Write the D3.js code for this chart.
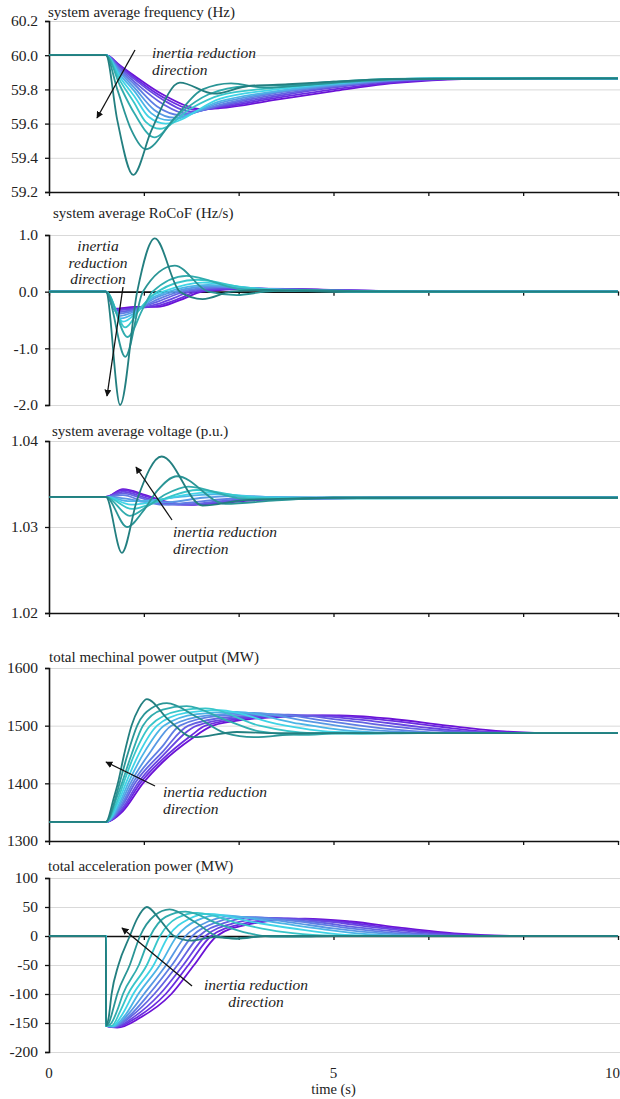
<!DOCTYPE html>
<html>
<head>
<meta charset="utf-8">
<script src="https://cdn.jsdelivr.net/npm/d3@7"></script>
<style>
  body { margin: 0; background: #fff; }
  svg text { font-family: "Liberation Serif", "DejaVu Serif", "Times New Roman", serif; }
</style>
</head>
<body>
<div id="chart"></div>
<script>
// ---- data ----
var timeTicks = [0, 1.667, 3.333, 5, 6.667, 8.333, 10];
var timeLabels = [0, 5, 10];

var freqTicks = [59.2, 59.4, 59.6, 59.8, 60.0, 60.2];
var rocofTicks = [-2, -1, 0, 1];
var voltTicks = [1.02, 1.03, 1.04];
var mechTicks = [1300, 1400, 1500, 1600];
var accTicks = [-200, -150, -100, -50, 0, 50, 100];

// one series per inertia case, highest inertia first
var freqSeries = [
  [[0,60],[1,60],[1.25,59.94],[1.5,59.88],[2.0,59.77],[2.7,59.685],[3.0,59.69],[4.0,59.74],[5.0,59.79],[6.0,59.835],[7.0,59.858],[8,59.865],[10,59.865]],
  [[0,60],[1,60],[1.25,59.935],[1.5,59.87],[2.0,59.755],[2.6,59.68],[3.0,59.695],[4.0,59.75],[5.0,59.80],[6.0,59.84],[7.0,59.86],[8,59.865],[10,59.865]],
  [[0,60],[1,60],[1.25,59.93],[1.5,59.86],[2.0,59.74],[2.5,59.67],[3.0,59.70],[4.0,59.76],[5.0,59.81],[6.0,59.845],[7,59.861],[8,59.865],[10,59.865]],
  [[0,60],[1,60],[1.25,59.92],[1.5,59.845],[2.0,59.715],[2.4,59.66],[3.0,59.705],[4.0,59.77],[5.0,59.815],[6.0,59.85],[7,59.862],[8,59.865],[10,59.865]],
  [[0,60],[1,60],[1.25,59.91],[1.5,59.83],[1.9,59.70],[2.3,59.65],[3.0,59.71],[4.0,59.78],[5.0,59.82],[6.0,59.852],[7,59.863],[8,59.865],[10,59.865]],
  [[0,60],[1,60],[1.25,59.90],[1.5,59.81],[1.85,59.68],[2.2,59.635],[3.0,59.72],[4,59.785],[5,59.825],[6,59.855],[7,59.864],[8,59.865],[10,59.865]],
  [[0,60],[1,60],[1.25,59.885],[1.5,59.79],[1.8,59.66],[2.1,59.62],[3.0,59.73],[4,59.79],[5,59.83],[6,59.858],[7,59.864],[10,59.865]],
  [[0,60],[1,60],[1.25,59.87],[1.5,59.76],[1.75,59.64],[2.05,59.60],[3,59.745],[4,59.80],[5,59.835],[6,59.86],[7,59.865],[10,59.865]],
  [[0,60],[1,60],[1.25,59.85],[1.5,59.72],[1.7,59.61],[1.95,59.57],[2.5,59.69],[3,59.765],[4,59.81],[5,59.84],[6,59.86],[7,59.865],[10,59.865]],
  [[0,60],[1,60],[1.25,59.82],[1.5,59.66],[1.85,59.52],[2.3,59.66],[2.8,59.77],[3.5,59.82],[4.2,59.825],[5,59.845],[6,59.862],[7,59.865],[10,59.865]],
  [[0,60],[1,60],[1.2,59.80],[1.45,59.56],[1.7,59.45],[2.2,59.63],[2.7,59.80],[3.2,59.835],[3.8,59.81],[4.5,59.825],[5.5,59.85],[6.5,59.862],[10,59.865]],
  [[0,60],[1,60],[1.2,59.62],[1.48,59.30],[1.8,59.56],[2.3,59.84],[2.9,59.775],[3.5,59.82],[4.2,59.83],[5,59.845],[6,59.86],[10,59.865]]
];

var rocofSeries = [
  [[0,0],[1,0],[1.15,-0.30],[1.5,-0.27],[1.9,-0.27],[2.3,-0.15],[2.7,0],[3.5,0.05],[4.2,0.05],[5,0.03],[6,0.01],[7,0],[10,0]],
  [[0,0],[1,0],[1.15,-0.31],[1.5,-0.29],[1.9,-0.25],[2.3,-0.12],[2.6,0],[3.4,0.055],[4.2,0.048],[5,0.028],[6,0.01],[7,0],[10,0]],
  [[0,0],[1,0],[1.17,-0.33],[1.5,-0.30],[1.9,-0.22],[2.2,-0.11],[2.5,0],[3.3,0.06],[4.1,0.045],[5,0.025],[6,0.008],[7,0],[10,0]],
  [[0,0],[1,0],[1.19,-0.36],[1.5,-0.31],[1.9,-0.18],[2.4,0],[3.1,0.07],[4,0.045],[5,0.022],[6,0.006],[7,0],[10,0]],
  [[0,0],[1,0],[1.21,-0.39],[1.5,-0.33],[1.9,-0.14],[2.3,0],[3.0,0.08],[3.9,0.045],[5,0.02],[6,0.005],[7,0],[10,0]],
  [[0,0],[1,0],[1.23,-0.43],[1.5,-0.35],[1.85,-0.12],[2.2,0],[2.9,0.10],[3.8,0.05],[5,0.018],[6,0.004],[7,0],[10,0]],
  [[0,0],[1,0],[1.26,-0.47],[1.5,-0.38],[1.8,-0.12],[2.1,0],[2.8,0.12],[3.7,0.055],[4.6,0.02],[6,0.003],[7,0],[10,0]],
  [[0,0],[1,0],[1.3,-0.53],[1.55,-0.36],[1.8,-0.08],[2.0,0],[2.7,0.16],[3.6,0.06],[4.5,0.02],[6,0],[10,0]],
  [[0,0],[1,0],[1.34,-0.63],[1.6,-0.3],[1.9,0],[2.6,0.21],[3.5,0.06],[4.5,0.015],[6,0],[10,0]],
  [[0,0],[1,0],[1.38,-0.80],[1.65,-0.3],[1.82,0],[2.42,0.28],[3.4,0.04],[4.2,0.02],[5.5,0],[10,0]],
  [[0,0],[1,0],[1.34,-1.15],[1.65,0],[2.21,0.46],[2.8,0],[3.3,-0.06],[3.8,0],[4.5,0.03],[5.5,0.01],[7,0],[10,0]],
  [[0,0],[1,0],[1.25,-2.0],[1.55,0],[1.86,0.94],[2.3,0],[2.7,-0.13],[3.2,0],[3.8,0.03],[4.6,0.01],[6,0],[10,0]]
];

var voltSeries = [
  [[0,1.0335],[1,1.0335],[1.3,1.0344],[1.7,1.0337],[2.1,1.0329],[2.5,1.0326],[3.0,1.0328],[3.6,1.0331],[4.5,1.0333],[6,1.0334],[10,1.0334]],
  [[0,1.0335],[1,1.0335],[1.3,1.0343],[1.7,1.0336],[2.1,1.0328],[2.5,1.0326],[3.0,1.0329],[3.6,1.0332],[4.5,1.0333],[6,1.0334],[10,1.0334]],
  [[0,1.0335],[1,1.0335],[1.3,1.0341],[1.7,1.0334],[2.1,1.0327],[2.45,1.0326],[3.0,1.0329],[3.6,1.0332],[4.5,1.0333],[6,1.0334],[10,1.0334]],
  [[0,1.0335],[1,1.0335],[1.3,1.0339],[1.7,1.0332],[2.1,1.0326],[2.4,1.0326],[3.0,1.0330],[3.6,1.0333],[5,1.0334],[10,1.0334]],
  [[0,1.0335],[1,1.0335],[1.3,1.0337],[1.65,1.0330],[2.0,1.0326],[2.4,1.0328],[3,1.0332],[3.6,1.0334],[10,1.0334]],
  [[0,1.0335],[1,1.0335],[1.35,1.0333],[1.7,1.0329],[2.1,1.0329],[2.7,1.0334],[3.2,1.0336],[4,1.0335],[5,1.0334],[10,1.0334]],
  [[0,1.0335],[1,1.0335],[1.42,1.0330],[1.8,1.0331],[2.3,1.0335],[2.9,1.0338],[3.8,1.0335],[5,1.0334],[10,1.0334]],
  [[0,1.0335],[1,1.0335],[1.44,1.0326],[1.8,1.0329],[2.2,1.0335],[2.75,1.0340],[3.8,1.0334],[10,1.0334]],
  [[0,1.0335],[1,1.0335],[1.46,1.0321],[1.8,1.0327],[2.15,1.0336],[2.6,1.0343],[3.6,1.0334],[4.5,1.0333],[10,1.0334]],
  [[0,1.0335],[1,1.0335],[1.42,1.0313],[1.75,1.0325],[2.05,1.0338],[2.45,1.0347],[3.4,1.0333],[4.0,1.0332],[5,1.0334],[10,1.0334]],
  [[0,1.0335],[1,1.0335],[1.37,1.0300],[1.65,1.0318],[1.9,1.0342],[2.25,1.0359],[3.1,1.0327],[4,1.0331],[5,1.0334],[10,1.0334]],
  [[0,1.0335],[1,1.0335],[1.28,1.0270],[1.55,1.0332],[1.98,1.0382],[2.7,1.0325],[3.4,1.0331],[4.2,1.0333],[5,1.0334],[10,1.0334]]
];

var mechSeries = [
  [[0,1333],[1,1333],[1.3,1352],[1.65,1400],[2.0,1437],[2.5,1477],[2.88,1500],[3.5,1511],[4.2,1516],[5.1,1518],[6.0,1512],[7.0,1500],[8.0,1490],[9,1487],[10,1487]],
  [[0,1333],[1,1333],[1.3,1355],[1.6,1400],[2.0,1442],[2.5,1483],[2.75,1500],[3.5,1513],[4.8,1518],[5.8,1511],[6.8,1499],[7.8,1489],[8.8,1487],[10,1487]],
  [[0,1333],[1,1333],[1.3,1358],[1.56,1400],[2.0,1448],[2.6,1500],[3.3,1513],[4.5,1518],[5.5,1510],[6.5,1498],[7.5,1489],[8.5,1487],[10,1487]],
  [[0,1333],[1,1333],[1.28,1360],[1.51,1400],[2.0,1455],[2.45,1500],[3.2,1515],[4.2,1519],[5.2,1509],[6.2,1497],[7.2,1489],[8.2,1487],[10,1487]],
  [[0,1333],[1,1333],[1.27,1362],[1.47,1400],[2.0,1465],[2.30,1500],[3.0,1517],[3.9,1520],[4.9,1508],[5.9,1495],[6.9,1488],[8,1487],[10,1487]],
  [[0,1333],[1,1333],[1.26,1365],[1.43,1400],[1.8,1457],[2.15,1500],[2.8,1518],[3.6,1522],[4.6,1507],[5.6,1493],[6.6,1488],[7.6,1487],[10,1487]],
  [[0,1333],[1,1333],[1.25,1368],[1.39,1400],[1.7,1458],[2.02,1500],[2.6,1520],[3.3,1524],[4.3,1505],[5.3,1491],[6.3,1487],[10,1487]],
  [[0,1333],[1,1333],[1.23,1370],[1.35,1400],[1.6,1455],[1.90,1500],[2.4,1522],[3.0,1527],[4.0,1503],[5.0,1489],[6,1487],[10,1487]],
  [[0,1333],[1,1333],[1.21,1372],[1.31,1400],[1.5,1450],[1.78,1500],[2.3,1526],[2.75,1530],[3.7,1500],[4.6,1487],[5.5,1486],[6.5,1487],[10,1487]],
  [[0,1333],[1,1333],[1.19,1375],[1.28,1400],[1.45,1450],[1.65,1500],[2.0,1528],[2.42,1534],[3.1,1510],[3.7,1490],[4.4,1484],[5.2,1487],[10,1487]],
  [[0,1333],[1,1333],[1.17,1375],[1.24,1400],[1.38,1450],[1.55,1500],[1.8,1530],[2.07,1539],[2.6,1515],[3.1,1487],[3.6,1480],[4.3,1485],[5,1487],[10,1487]],
  [[0,1333],[1,1333],[1.14,1375],[1.21,1400],[1.32,1450],[1.45,1500],[1.58,1530],[1.72,1546],[2.1,1510],[2.54,1480],[3.3,1489],[4,1487],[10,1487]]
];

var accSeries = [
  [[0,0],[1,0],[1.001,-155],[1.2,-158],[1.6,-141],[2.15,-100],[2.55,-50],[2.95,0],[3.5,20],[4.5,30],[5.3,25],[6.2,14],[7.2,4],[8.3,0],[10,0]],
  [[0,0],[1,0],[1.001,-155],[1.18,-157],[1.55,-140],[2.05,-100],[2.45,-50],[2.85,0],[3.4,21],[4.2,30],[5.1,25],[6.0,14],[7.0,4],[8.1,0],[10,0]],
  [[0,0],[1,0],[1.001,-155],[1.16,-157],[1.5,-139],[1.95,-100],[2.36,-50],[2.75,0],[3.25,22],[3.9,31],[4.9,25],[5.8,14],[6.8,4],[7.8,0],[10,0]],
  [[0,0],[1,0],[1.001,-155],[1.15,-156],[1.45,-138],[1.85,-100],[2.26,-50],[2.64,0],[3.1,23],[3.6,32],[4.6,25],[5.5,14],[6.5,4],[7.5,0],[10,0]],
  [[0,0],[1,0],[1.001,-155],[1.14,-156],[1.42,-137],[1.76,-100],[2.16,-50],[2.52,0],[2.95,24],[3.4,33],[4.4,25],[5.3,13],[6.2,4],[7.2,0],[10,0]],
  [[0,0],[1,0],[1.001,-155],[1.13,-156],[1.38,-136],[1.67,-100],[2.06,-50],[2.4,0],[2.8,25],[3.2,34],[4.2,24],[5.0,13],[5.9,4],[6.8,0],[10,0]],
  [[0,0],[1,0],[1.001,-155],[1.12,-155.5],[1.35,-135],[1.57,-100],[1.95,-50],[2.25,0],[2.6,27],[3.0,36],[4.0,23],[4.8,12],[5.6,3],[6.4,0],[10,0]],
  [[0,0],[1,0],[1.001,-155],[1.11,-155.5],[1.3,-133],[1.48,-100],[1.84,-50],[2.1,0],[2.45,29],[2.8,38],[3.7,22],[4.5,10],[5.2,2],[6.0,0],[10,0]],
  [[0,0],[1,0],[1.001,-155],[1.1,-155],[1.25,-130],[1.39,-100],[1.72,-50],[1.95,0],[2.25,31],[2.6,40],[3.4,20],[4.1,7],[4.8,1],[5.5,0],[10,0]],
  [[0,0],[1,0],[1.001,-155],[1.08,-152],[1.2,-128],[1.3,-100],[1.58,-50],[1.78,0],[2.05,33],[2.4,42],[3.0,20],[3.5,5],[3.9,-1],[4.5,0],[10,0]],
  [[0,0],[1,0],[1.001,-155],[1.06,-148],[1.13,-125],[1.2,-100],[1.42,-50],[1.6,0],[1.85,35],[2.12,46],[2.55,25],[2.95,0],[3.3,-5],[3.8,0],[4.4,-1],[5,0],[10,0]],
  [[0,0],[1,0],[1.001,-155],[1.05,-140],[1.1,-100],[1.22,-50],[1.42,0],[1.55,30],[1.72,50],[1.95,28],[2.2,0],[2.5,-8],[2.9,-2],[3.3,-4],[3.8,0],[10,0]]
];

// purple (high inertia) -> cyan -> teal (low inertia)
var colors = ['#6b12d6','#6a2ce0','#6846e2','#6462e2','#5f7ee4','#5898e4',
              '#4cb4e6','#40d4e6','#38c6ca','#30acae','#2a9596','#237f80'];

// ---- layout ----
var W = 620, H = 1099;
var serif = "'Liberation Serif', 'DejaVu Serif', 'Times New Roman', serif";
var x = d3.scaleLinear().domain([0, 10]).range([49, 618]);

var svg = d3.select("#chart").append("svg")
  .attr("width", W)
  .attr("height", H);

var panels = [
  {title: "system average frequency (Hz)", data: freqSeries, ticks: freqTicks, dec: 1,
   domain: [59.2, 60.2], range: [192, 21], xAt: 59.2, tx: 48, ty: 17,
   note: {lines: ["inertia reduction", "direction"], x: 152, y: 58, anchor: "start", from: [135, 50], to: [97, 118]}},
  {title: "system average RoCoF (Hz/s)", data: rocofSeries, ticks: rocofTicks, dec: 1,
   domain: [-2, 1], range: [405, 235], xAt: 0, tx: 53, ty: 218,
   note: {lines: ["inertia", "reduction", "direction"], x: 98, y: 251, anchor: "middle", from: [123, 287], to: [107, 396]}},
  {title: "system average voltage (p.u.)", data: voltSeries, ticks: voltTicks, dec: 2,
   domain: [1.02, 1.04], range: [613, 441], xAt: 1.02, tx: 52, ty: 436,
   note: {lines: ["inertia reduction", "direction"], x: 173, y: 537, anchor: "start", from: [172, 520], to: [136, 467]}},
  {title: "total mechinal power output (MW)", data: mechSeries, ticks: mechTicks, dec: 0,
   domain: [1300, 1600], range: [841, 668], xAt: 1300, tx: 49, ty: 662,
   note: {lines: ["inertia reduction", "direction"], x: 163, y: 797, anchor: "start", from: [155, 786], to: [106, 762]}},
  {title: "total acceleration power (MW)", data: accSeries, ticks: accTicks, dec: 0,
   domain: [-200, 100], range: [1052, 878], xAt: 0, tx: 48, ty: 871,
   note: {lines: ["inertia reduction", "direction"], x: 256, y: 990, anchor: "middle", from: [192, 986], to: [122, 928]}}
];

svg.append("defs").append("marker")
  .attr("id", "arrow")
  .attr("viewBox", "0 0 10 10")
  .attr("refX", 9)
  .attr("refY", 5)
  .attr("markerWidth", 7)
  .attr("markerHeight", 7)
  .attr("markerUnits", "userSpaceOnUse")
  .attr("orient", "auto")
  .append("path")
  .attr("d", "M0,0 L10,5 L0,10 z")
  .attr("fill", "#111");

panels.forEach(function(p) { drawPanel(p); });

// bottom time labels (the last one kept inside the frame)
svg.selectAll("text.tlabel")
  .data(timeLabels)
  .enter().append("text")
  .attr("class", "tlabel")
  .attr("x", (d, i) => i === timeLabels.length - 1 ? W : x(d))
  .attr("y", 1078)
  .attr("text-anchor", (d, i) => i === timeLabels.length - 1 ? "end" : "middle")
  .attr("font-size", 15)
  .attr("fill", "#222")
  .style("font-family", serif)
  .text(d => d);
svg.append("text")
  .attr("x", x(5))
  .attr("y", 1094)
  .attr("text-anchor", "middle")
  .attr("font-size", 14.5)
  .attr("fill", "#222")
  .style("font-family", serif)
  .text("time (s)");

function drawPanel(p) {
  var y = d3.scaleLinear().domain(p.domain).range(p.range);
  var g = svg.append("g");

  // grid
  g.append("g")
    .attr("transform", "translate(" + x(0) + ",0)")
    .call(d3.axisLeft(y).tickValues(p.ticks).tickSize(-(W - x(0))).tickFormat(""))
    .call(a => a.select(".domain").remove())
    .selectAll("line")
    .attr("stroke", "#d9d9d9")
    .attr("stroke-width", 1);

  // y axis
  var ya = g.append("g")
    .attr("transform", "translate(" + x(0) + ",0)")
    .call(d3.axisLeft(y).tickValues(p.ticks).tickSize(4).tickPadding(7)
      .tickFormat(d => d.toFixed(p.dec)));
  ya.select(".domain").attr("stroke", "#111").attr("stroke-width", 1.6);
  ya.selectAll("line").attr("stroke", "#111").attr("stroke-width", 1.3);
  ya.selectAll("text")
    .style("font-family", serif)
    .attr("font-size", 15.5)
    .attr("fill", "#222");

  // x axis
  var xa = g.append("g")
    .attr("transform", "translate(0," + y(p.xAt) + ")")
    .call(d3.axisBottom(x).tickValues(timeTicks).tickSize(4).tickSizeOuter(0).tickFormat(""));
  xa.select(".domain").attr("stroke", "#111").attr("stroke-width", 1.6);
  xa.selectAll("line").attr("stroke", "#111").attr("stroke-width", 1.3);

  // series
  var line = d3.line()
    .x(d => x(d[0]))
    .y(d => y(d[1]))
    .curve(d3.curveMonotoneX);
  g.selectAll("path.series")
    .data(p.data)
    .enter().append("path")
    .attr("class", "series")
    .attr("d", line)
    .attr("fill", "none")
    .attr("stroke", (d, i) => colors[i])
    .attr("stroke-width", 1.8);

  // title
  g.append("text")
    .attr("x", p.tx)
    .attr("y", p.ty)
    .attr("font-size", 15)
    .attr("fill", "#222")
    .style("font-family", serif)
    .text(p.title);

  // annotation
  var n = p.note;
  g.append("line")
    .attr("x1", n.from[0]).attr("y1", n.from[1])
    .attr("x2", n.to[0]).attr("y2", n.to[1])
    .attr("stroke", "#111")
    .attr("stroke-width", 1.3)
    .attr("marker-end", "url(#arrow)");
  g.selectAll("text.note")
    .data(n.lines)
    .enter().append("text")
    .attr("class", "note")
    .attr("x", n.x)
    .attr("y", (d, i) => n.y + i * 16.5)
    .attr("text-anchor", n.anchor)
    .attr("font-style", "italic")
    .attr("font-size", 15.5)
    .attr("fill", "#222")
    .style("font-family", serif)
    .text(d => d);
}
</script>
</body>
</html>
